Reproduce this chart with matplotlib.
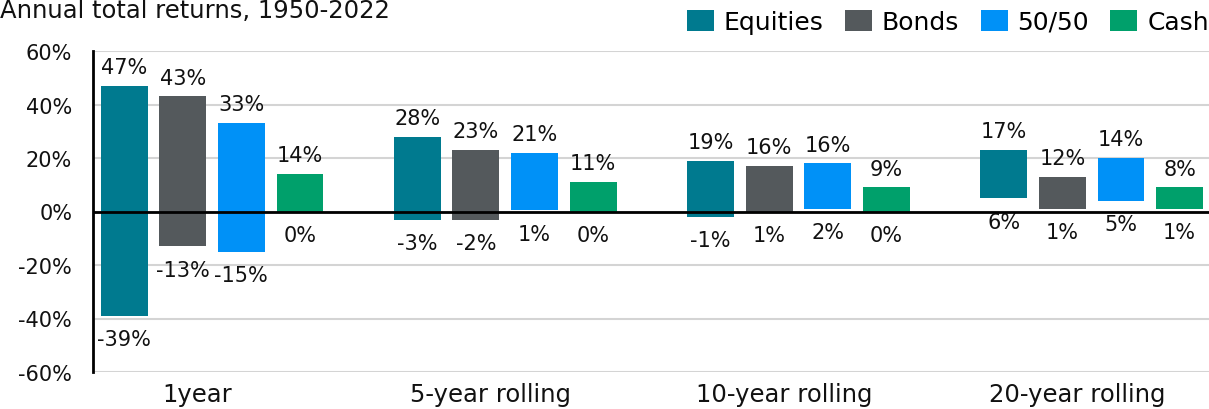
import matplotlib
matplotlib.use("Agg")
import matplotlib.pyplot as plt
from matplotlib.patches import Patch
import numpy as np

plt.rcParams['font.family'] = ['DejaVu Sans']

# ---- data ----
categories = ["1year", "5-year rolling", "10-year rolling", "20-year rolling"]
series = ["Equities", "Bonds", "50/50", "Cash"]
# bar extents as drawn (percent)
bar_high = {
    "Equities": [47, 28, 19, 23],
    "Bonds":    [43, 23, 17, 13],
    "50/50":    [33, 22, 18, 20],
    "Cash":     [14, 11, 9, 9],
}
bar_low = {
    "Equities": [-39, -3, -2, 5],
    "Bonds":    [-13, -3, 0, 1],
    "50/50":    [-15, 0.5, 1, 4],
    "Cash":     [0, 0, 0, 1],
}
# printed labels
label_high = {
    "Equities": ["47%", "28%", "19%", "17%"],
    "Bonds":    ["43%", "23%", "16%", "12%"],
    "50/50":    ["33%", "21%", "16%", "14%"],
    "Cash":     ["14%", "11%", "9%", "8%"],
}
label_low = {
    "Equities": ["-39%", "-3%", "-1%", "6%"],
    "Bonds":    ["-13%", "-2%", "1%", "1%"],
    "50/50":    ["-15%", "1%", "2%", "5%"],
    "Cash":     ["0%", "0%", "0%", "1%"],
}
colors = {"Equities": "#007A8F", "Bonds": "#54595C", "50/50": "#0091F7", "Cash": "#00A06B"}
yticks = [-60, -40, -20, 0, 20, 40, 60]
title = "Annual total returns, 1950-2022"

W, H = 1209, 410
fig = plt.figure(figsize=(W / 100, H / 100), dpi=100)
ax = fig.add_axes([93 / W, (H - 373) / H, (W - 93) / W, (373 - 52) / H])

FS = 15
FS_CAT = 17.5
FS_LEG = 18
step, width = 0.2, 0.16
x = np.arange(len(categories))
for i, s in enumerate(series):
    xs = x + (i - 1.5) * step
    hi = np.array(bar_high[s], dtype=float)
    lo = np.array(bar_low[s], dtype=float)
    ax.bar(xs, hi - lo, bottom=lo, width=width, color=colors[s], zorder=3)
    for xx, h, l, th, tl in zip(xs, hi, lo, label_high[s], label_low[s]):
        ax.annotate(th, (xx, h), xytext=(0, 13.5), textcoords="offset points",
                    ha="center", va="center", fontsize=FS, color="#111111", zorder=4)
        ax.annotate(tl, (xx, l), xytext=(0, -17), textcoords="offset points",
                    ha="center", va="center", fontsize=FS, color="#111111", zorder=4)

ax.set_ylim(-60, 60)
ax.set_xlim(-0.406, 3.40)
ax.set_yticks(yticks)
ax.set_yticklabels([f"{v}%" for v in yticks], fontsize=FS)
ax.set_xticks(x - 0.05)
ax.set_xticklabels(categories, fontsize=FS_CAT)
ax.tick_params(axis="both", length=0, colors="#111111")
ax.tick_params(axis="y", pad=15)
ax.tick_params(axis="x", pad=7)
ax.yaxis.grid(True, color="#d4d4d4", linewidth=1.5, zorder=0)
ax.set_axisbelow(True)
for sp in ["top", "right", "bottom"]:
    ax.spines[sp].set_visible(False)
ax.spines["left"].set_linewidth(2)
ax.spines["left"].set_color("black")
ax.axhline(0, color="black", linewidth=2, zorder=5)

fig.text(0.0, 1 - 18 / H, title, fontsize=FS_CAT, ha="left", va="baseline", color="#111111")

handles = [Patch(facecolor=colors[s], edgecolor="none", label=s) for s in series]
fig.legend(handles=handles, loc="upper right", bbox_to_anchor=(1.0, 1 - 11 / H), ncol=4,
           frameon=False, fontsize=FS_LEG, handlelength=1.08, handleheight=0.88,
           handletextpad=0.4, columnspacing=0.85, borderpad=0.0, borderaxespad=0.0)

fig.savefig("out.png", dpi=100)
